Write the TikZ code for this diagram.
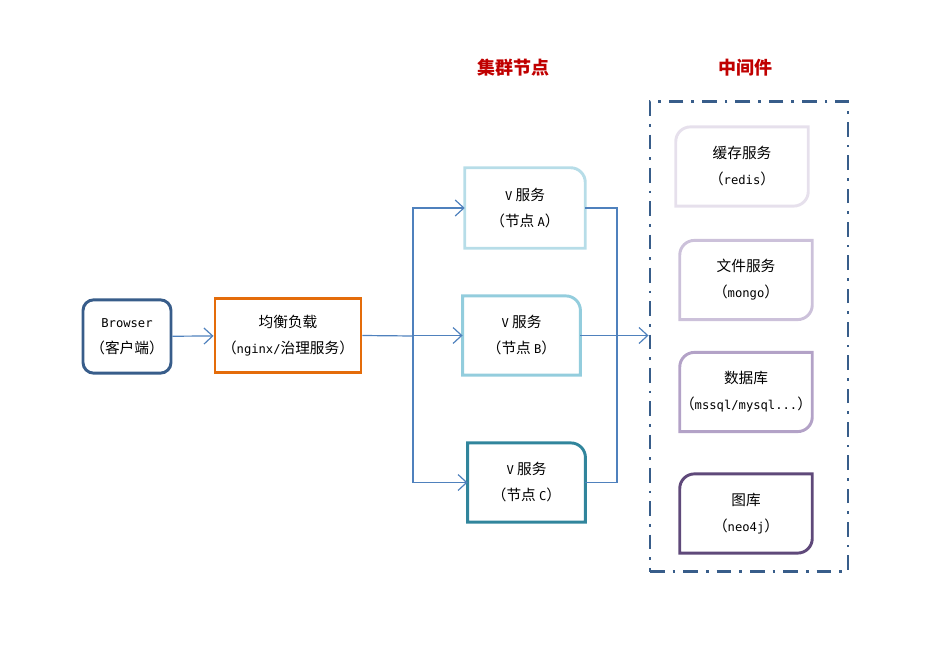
\documentclass[tikz,border=0pt]{standalone}
\usepackage{fontspec}
\setmainfont{Noto Sans CJK SC}
\newfontfamily\latmono{DejaVu Sans Mono}[Scale=0.83]
\usetikzlibrary{arrows.meta, positioning, calc}
\definecolor{navy}{HTML}{385D8A}
\definecolor{lborange}{HTML}{E46C0A}
\definecolor{linkblue}{HTML}{4F81BD}
\definecolor{nodeA}{HTML}{B7DDE8}
\definecolor{nodeB}{HTML}{93CDDD}
\definecolor{nodeC}{HTML}{31859C}
\definecolor{mwA}{HTML}{E6E0EC}
\definecolor{mwB}{HTML}{CCC1DA}
\definecolor{mwC}{HTML}{B3A2C7}
\definecolor{mwD}{HTML}{5F497A}
\definecolor{titlered}{HTML}{C00000}
\newcommand\lat[1]{{\latmono #1}}
% frame with only the top right corner rounded
\newcommand\frameTR[2]{%
  \draw[#2] (#1.south west) -- (#1.north west) -- ([xshift=-11pt]#1.north east)
    arc[start angle=90, end angle=0, radius=11pt] -- (#1.south east) -- cycle;}
% frame with top left and bottom right corners rounded
\newcommand\frameDiag[2]{%
  \draw[#2] (#1.south west) -- ([yshift=-11pt]#1.north west)
    arc[start angle=180, end angle=90, radius=11pt] -- (#1.north east)
    -- ([yshift=11pt]#1.south east) arc[start angle=0, end angle=-90, radius=11pt] -- cycle;}

\begin{document}
\begin{tikzpicture}[x=0.75pt, y=0.75pt,
  box/.style={align=center, font=\fontsize{11}{19.5}\selectfont, inner sep=0pt,
    minimum height=59pt, minimum width=99pt},
  title/.style={font=\fontsize{13.5}{14}\selectfont\bfseries, text=titlered},
  frame/.style={line width=2.2pt},
  link/.style={draw=linkblue, line width=0.9pt},
  >={Straight Barb[length=6.5pt, width=12pt]}]
  \useasboundingbox (0,0) rectangle (930,644);

  % client and load balancer
  \node[box, minimum width=66pt, minimum height=55pt, draw=navy, frame,
    rounded corners=8pt] (browser) at (127,307.5) {\lat{Browser}\\（客户端）};
  \node[box, minimum width=109.5pt, minimum height=56pt, draw=lborange, frame]
    (lb) at (288,308.5) {均衡负载\\（\lat{nginx/}治理服务）};

  % cluster nodes
  \node[title] (cluster) at (513,576) {集群节点};
  \node[box, minimum width=90pt, minimum height=60pt] (a) at (525,436) {\lat{V} 服务\\（节点 \lat{A}）};
  \node[box, minimum width=88pt] (b) at (521.5,308.5) {\lat{V} 服务\\（节点 \lat{B}）};
  \node[box, minimum width=88pt] (c) at (526.5,161.5) {\lat{V} 服务\\（节点 \lat{C}）};
  \frameTR{a}{frame, draw=nodeA}
  \frameTR{b}{frame, draw=nodeB}
  \frameTR{c}{frame, draw=nodeC}

  % middleware
  \node[title] (middle) at (745,576) {中间件};
  \node[minimum width=148.5pt, minimum height=353pt, inner sep=0pt, draw=navy,
    line width=2.2pt, dash pattern=on 11pt off 6pt on 2pt off 6pt] (mw) at (749,307.5) {};
  \node[box] (cache) at (742,477.5) {缓存服务\\（\lat{redis}）};
  \node[box] (file) at (746,364) {文件服务\\（\lat{mongo}）};
  \node[box] (db) at (746,252) {数据库\\（\lat{mssql/mysql...}）};
  \node[box] (graph) at (746,130.5) {图库\\（\lat{neo4j}）};
  \frameDiag{cache}{frame, draw=mwA}
  \frameDiag{file}{frame, draw=mwB}
  \frameDiag{db}{frame, draw=mwC}
  \frameDiag{graph}{frame, draw=mwD}

  % connectors
  \coordinate (split) at (413,308);
  \coordinate (merge) at (617,308);
  \draw[link, ->] (browser) -- (lb);
  \draw[link] (lb.east) -- (split);
  \foreach \n in {a,b,c} \draw[link, ->] (split) |- (\n.west);
  \draw[link] (a.east) -| (merge);
  \draw[link] (c.east) -| (merge);
  \draw[link, ->] (b.east) -- (b.east -| mw.west);
\end{tikzpicture}
\end{document}
